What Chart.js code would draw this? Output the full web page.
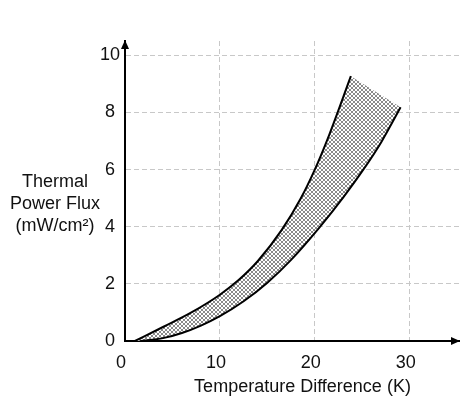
<!DOCTYPE html>
<html lang="en">
<head>
    <meta charset="UTF-8">
    <title>Thermal Power Flux</title>
    <script src="https://cdn.jsdelivr.net/npm/chart.js"></script>
    <style>
        html, body { margin: 0; padding: 0; background: #fff; }
        #wrap { width: 460px; height: 396px; }
    </style>
</head>
<body>
    <div id="wrap"><canvas id="fluxChart"></canvas></div>
    <script>
        // upper and lower bounds of the flux band
        const upperX = [1.05, 4, 7, 10, 12, 14, 16.5, 18.5, 20, 21.5, 23.8];
        const upperY = [0, 0.49, 1.0, 1.62, 2.14, 2.8, 3.88, 4.98, 6.0, 7.2, 9.27];
        const lowerX = [1.6, 4, 6, 8, 10, 12.5, 15, 17.5, 20.5, 23, 25.2, 27, 29.04];
        const lowerY = [0, 0.1, 0.28, 0.54, 0.87, 1.39, 2.04, 2.84, 3.98, 5.03, 6.04, 6.96, 8.18];

        const xTicks = [0, 10, 20, 30];
        const yTicks = [0, 2, 4, 6, 8, 10];
        const xTitle = 'Temperature Difference (K)';
        const yTitle = ['Thermal', 'Power Flux', '(mW/cm²)'];

        const font = { family: '"Liberation Sans", Arial, sans-serif', size: 18 };

        const toPoints = (xs, ys) => xs.map((x, i) => ({ x: x, y: ys[i] }));

        // small cross-hatch tile for the band
        const tile = document.createElement('canvas');
        tile.width = tile.height = 4;
        const tctx = tile.getContext('2d');
        tctx.fillStyle = '#8a8a8a';
        for (let i = 0; i < 4; i++) {
            tctx.fillRect(i, i, 1, 1);
            tctx.fillRect(i, 3 - i, 1, 1);
        }

        // fill between the two curves, using the line elements' own paths
        const hatchPlugin = {
            id: 'hatch',
            beforeDatasetsDraw(chart) {
                const ctx = chart.ctx;
                const up = chart.getDatasetMeta(0).dataset;
                const lo = chart.getDatasetMeta(1).dataset;
                up.updateControlPoints(chart.chartArea, 'x');
                lo.updateControlPoints(chart.chartArea, 'x');
                ctx.save();
                ctx.beginPath();
                up.pathSegment(ctx, up.segments[0]);
                lo.pathSegment(ctx, lo.segments[0], { move: false, reverse: true });
                ctx.closePath();
                ctx.fillStyle = '#fff';
                ctx.fill();
                ctx.fillStyle = ctx.createPattern(tile, 'repeat');
                ctx.fill();
                ctx.restore();
            }
        };

        // axis arrows and the two axis titles
        const axisPlugin = {
            id: 'axisDecor',
            afterDraw(chart) {
                const ctx = chart.ctx;
                const a = chart.chartArea;
                ctx.save();
                ctx.fillStyle = '#000';
                ctx.beginPath();
                ctx.moveTo(a.right, a.bottom);
                ctx.lineTo(a.right - 9, a.bottom - 4);
                ctx.lineTo(a.right - 9, a.bottom + 4);
                ctx.closePath();
                ctx.fill();
                ctx.beginPath();
                ctx.moveTo(a.left, a.top - 1);
                ctx.lineTo(a.left - 4, a.top + 8);
                ctx.lineTo(a.left + 4, a.top + 8);
                ctx.closePath();
                ctx.fill();

                ctx.fillStyle = '#111';
                ctx.font = font.size + 'px ' + font.family;
                ctx.textAlign = 'center';
                ctx.textBaseline = 'middle';
                ctx.fillText(xTitle, (a.left + a.right) / 2 + 10, a.bottom + 46);
                yTitle.forEach((line, i) => {
                    ctx.fillText(line, 55, 182 + i * 22);
                });
                ctx.restore();
            }
        };

        const ctx = document.getElementById('fluxChart').getContext('2d');
        const fluxChart = new Chart(ctx, {
            type: 'line',
            data: {
                datasets: [{
                    label: 'upper',
                    data: toPoints(upperX, upperY),
                    borderColor: '#000',
                    borderWidth: 2,
                    pointRadius: 0,
                    cubicInterpolationMode: 'monotone',
                    fill: false
                }, {
                    label: 'lower',
                    data: toPoints(lowerX, lowerY),
                    borderColor: '#000',
                    borderWidth: 2,
                    pointRadius: 0,
                    cubicInterpolationMode: 'monotone',
                    fill: false
                }]
            },
            options: {
                responsive: true,
                maintainAspectRatio: false,
                animation: false,
                layout: { padding: { top: 41, right: 0, bottom: 0, left: 0 } },
                plugins: {
                    legend: { display: false },
                    tooltip: { enabled: false }
                },
                scales: {
                    x: {
                        type: 'linear',
                        min: 0,
                        max: 35.3,
                        afterBuildTicks: s => { s.ticks = xTicks.map(v => ({ value: v })); },
                        afterFit: s => { s.height = 55; },
                        grid: { color: '#c8c8c8', drawTicks: false },
                        border: { color: '#000', width: 2, dash: [5, 3] },
                        ticks: { font: font, color: '#111', padding: 11, labelOffset: -4, maxRotation: 0 }
                    },
                    y: {
                        type: 'linear',
                        min: 0,
                        max: 10.5,
                        afterBuildTicks: s => { s.ticks = yTicks.map(v => ({ value: v })); },
                        afterFit: s => { s.width = 125; },
                        grid: { color: '#c8c8c8', drawTicks: false },
                        border: { color: '#000', width: 2, dash: [5, 3] },
                        ticks: { font: font, color: '#111', padding: 5, crossAlign: 'center' }
                    }
                }
            },
            plugins: [hatchPlugin, axisPlugin]
        });
    </script>
</body>
</html>
